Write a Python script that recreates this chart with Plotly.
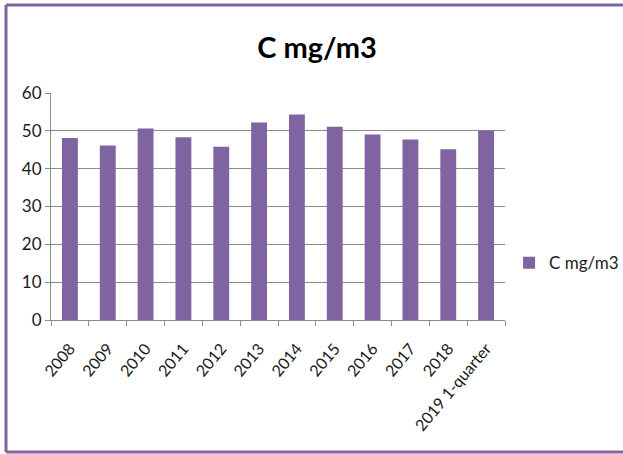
import plotly.graph_objects as go

years = ["2008", "2009", "2010", "2011", "2012", "2013", "2014",
         "2015", "2016", "2017", "2018", "2019 1-quarter"]
c_values = [48.1, 46.1, 50.6, 48.3, 45.8, 52.2, 54.3, 51.1, 49.0, 47.7, 45.1, 50.0]
series_name = "C mg/m3"

purple = "#8064A2"
grid = "#8C8C8C"
font_family = "Lato, 'Open Sans', sans-serif"

fig = go.Figure()

fig.add_trace(
    go.Bar(
        x=years,
        y=c_values,
        name=series_name,
        marker_color=purple,
        marker_line_width=0,
        showlegend=True
    )
)

# plot area is 454 x 227 px, used to turn pixel borders into paper units
pw, ph = 454, 227
left = (6 - 51) / pw
right = (623 - 51) / pw
top = 1 + (93 - 5) / ph
bottom = -(452 - 320) / ph
# frame: top, left and bottom edges only (right edge is off the picture)
for x0, y0, x1, y1 in [(left, top, right, top), (left, bottom, left, top), (left, bottom, right, bottom)]:
    fig.add_shape(
        type="line", xref="paper", yref="paper",
        x0=x0, y0=y0, x1=x1, y1=y1,
        line=dict(color=purple, width=3),
        layer="below"
    )

fig.update_layout(
    width=623,
    height=454,
    margin=dict(l=51, r=118, t=93, b=134, autoexpand=False),
    paper_bgcolor="white",
    plot_bgcolor="white",
    bargap=0.58,
    font=dict(family=font_family, size=16, color="#1a1a1a"),
    title=dict(
        text="<b>C mg/m3</b>",
        x=317 / 623,
        xanchor="center",
        y=1 - 48 / 454,
        yanchor="middle",
        font=dict(size=29, color="black", family=font_family)
    ),
    legend=dict(
        x=1.009,
        y=0.25,
        xanchor="left",
        yanchor="middle",
        bgcolor="rgba(0,0,0,0)",
        font=dict(size=17),
        itemwidth=30
    )
)

fig.update_yaxes(
    range=[0, 60],
    dtick=10,
    showgrid=True,
    gridcolor=grid,
    gridwidth=1,
    showline=True,
    linecolor=grid,
    ticks="outside",
    ticklen=5,
    tickcolor=grid,
    tickfont=dict(size=17),
    zeroline=False,
    automargin=False,
    fixedrange=True
)

fig.update_xaxes(
    tickangle=-50,
    ticklabelstandoff=12,
    showline=True,
    linecolor=grid,
    ticks="outside",
    tickson="boundaries",
    ticklen=5,
    tickcolor=grid,
    showgrid=False,
    automargin=False,
    fixedrange=True
)

# drop the browser's default margin and any scrollbar so the figure sits at 0,0
page_css = (
    "document.documentElement.style.overflow='hidden';"
    "document.body.style.margin='0';"
    "document.body.style.overflow='hidden';"
)
fig.write_html(
    "out.html",
    config={"displayModeBar": False},
    post_script=page_css
)
